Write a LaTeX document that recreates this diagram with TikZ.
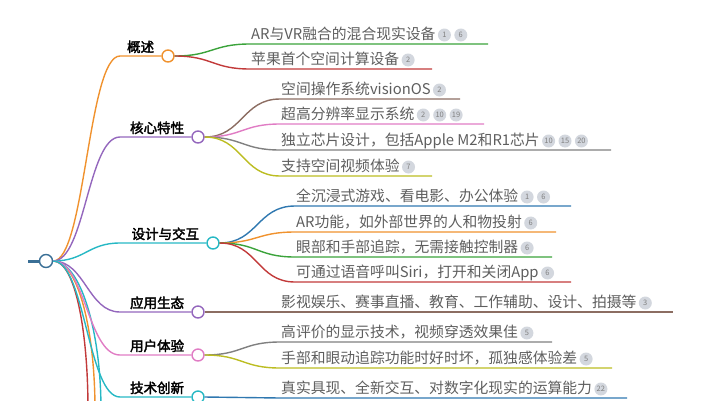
\documentclass[tikz,border=0pt]{standalone}
\usepackage{fontspec}
\setmainfont{Noto Sans CJK SC}[AutoFakeBold=2.5]
\usetikzlibrary{positioning, calc}

\definecolor{txt}{HTML}{5E5E5E}
\definecolor{cOrange}{HTML}{F0922E}
\definecolor{cPurple}{HTML}{9467BD}
\definecolor{cTeal}{HTML}{26B8C4}
\definecolor{cPink}{HTML}{E07CC4}
\definecolor{cGreen}{HTML}{3BA33B}
\definecolor{cRed}{HTML}{C23A3A}
\definecolor{cBrown}{HTML}{8C6D62}
\definecolor{cGray}{HTML}{808080}
\definecolor{cOlive}{HTML}{BCBD22}
\definecolor{cBlue}{HTML}{2F78B0}
\definecolor{cRoot}{HTML}{3A6F96}
\definecolor{badgeFill}{HTML}{D3D7DE}

% leaf: name, parent, y, x start, x end, colour, text, badges
\newcommand{\leaf}[8]{%
  \coordinate (#1s) at (#4,#3);
  \coordinate (#1e) at (#5,#3);
  \coordinate (#1m) at ($(#2)!.5!(#1s)$);
  \node[leafText] (#1) at (#4,#3) {#7};
  \foreach \b [count=\i] in {#8} {
    \pgfmathtruncatemacro\j{\i-1}
    \ifnum\i=1
      \node[badge, right=1pt of #1.base east, anchor=west, yshift=4] (#1b\i) {\b};
    \else
      \node[badge, right=3pt of #1b\j] (#1b\i) {\b};
    \fi
  }
  \draw[link, #6] (#2) .. controls (#1m |- #2) and (#1m |- #1s) .. (#1s) -- (#1e);
}

\begin{document}
\begin{tikzpicture}[
    x=1pt, y=-1pt,
    link/.style={line width=1.4pt},
    leafText/.style={anchor=base west, font=\fontsize{14.8}{16}\selectfont, text=txt, inner sep=1pt, yshift=5},
    topicText/.style={anchor=base east, font=\fontsize{13.5}{16}\selectfont\bfseries, text=black, inner sep=1pt},
    topicDot/.style={circle, draw, fill=white, line width=1.4pt, minimum size=12pt, inner sep=0pt},
    badge/.style={circle, fill=badgeFill, text=gray, minimum size=13pt, inner sep=0pt, font=\fontsize{7.5}{8}\selectfont}
]
\useasboundingbox (0,0) rectangle (711,400);
\clip (0,0) rectangle (711,400);

% --- root ---
\draw[cRoot, line width=3pt] (28,261) -- (40,261);
\node[topicDot, draw=cRoot, minimum size=13pt] (root) at (46,261) {};

% --- hidden branches below ---
\coordinate (h1) at (88,410);
\coordinate (h2) at (95,410);
\coordinate (h3) at (101,410);
\draw[link, cRed] (root) .. controls (75,261) and (88,330) .. (h1);
\draw[link, cOrange] (root) .. controls (78,261) and (95,330) .. (h2);
\draw[link, cTeal] (root) .. controls (80,261) and (101,330) .. (h3);

% --- topics ---
\foreach \nm/\y/\x/\cc in {t1/56/168/cOrange, t2/137/198/cPurple, t3/243/213/cTeal,
                           t4/312/198/cPurple, t5/355/198/cPink, t6/397/198/cTeal} {
  \node[topicDot, draw=\cc] (\nm) at (\x,\y) {};
  \coordinate (\nm s) at (120,\y);
  \draw[link, \cc] (root.east) .. controls (85,261) and (88,\y) .. (\nm s) -- (\nm.west);
}
\node[topicText] (l1) at ([xshift=-6pt, yshift=4pt]t1.west) {概述};
\node[topicText] (l2) at ([xshift=-6pt, yshift=4pt]t2.west) {核心特性};
\node[topicText] (l3) at ([xshift=-6pt, yshift=4pt]t3.west) {设计与交互};
\node[topicText] (l4) at ([xshift=-6pt, yshift=4pt]t4.west) {应用生态};
\node[topicText] (l5) at ([xshift=-6pt, yshift=4pt]t5.west) {用户体验};
\node[topicText] (l6) at ([xshift=-6pt, yshift=4pt]t6.west) {技术创新};

% --- leaves ---
\leaf{a1}{t1.east}{44}{250}{488}{cGreen}{AR与VR融合的混合现实设备}{1,6}
\leaf{a2}{t1.east}{69}{250}{432}{cRed}{苹果首个空间计算设备}{2}

\leaf{b1}{t2.east}{99}{280}{460}{cBrown}{空间操作系统visionOS}{2}
\leaf{b2}{t2.east}{124}{280}{484}{cPink}{超高分辨率显示系统}{2,10,19}
\leaf{b3}{t2.east}{150}{280}{611}{cGray}{独立芯片设计，包括Apple M2和R1芯片}{10,15,20}
\leaf{b4}{t2.east}{176}{280}{432}{cOlive}{支持空间视频体验}{7}

\leaf{c1}{t3.east}{206}{295}{571}{cBlue}{全沉浸式游戏、看电影、办公体验}{1,6}
\leaf{c2}{t3.east}{232}{295}{556}{cOrange}{AR功能，如外部世界的人和物投射}{6}
\leaf{c3}{t3.east}{257}{295}{552}{cGreen}{眼部和手部追踪，无需接触控制器}{6}
\leaf{c4}{t3.east}{282}{295}{571}{cRed}{可通过语音呼叫Siri，打开和关闭App}{6}

\leaf{d1}{t4.east}{312}{280}{673}{cBrown}{影视娱乐、赛事直播、教育、工作辅助、设计、拍摄等}{3}

\leaf{e1}{t5.east}{342}{280}{552}{cGray}{高评价的显示技术，视频穿透效果佳}{5}
\leaf{e2}{t5.east}{368}{280}{612}{cOlive}{手部和眼动追踪功能时好时坏，孤独感体验差}{5}

\leaf{f1}{t6.east}{398}{280}{627}{cBlue}{真实具现、全新交互、对数字化现实的运算能力}{22}

\end{tikzpicture}
\end{document}
